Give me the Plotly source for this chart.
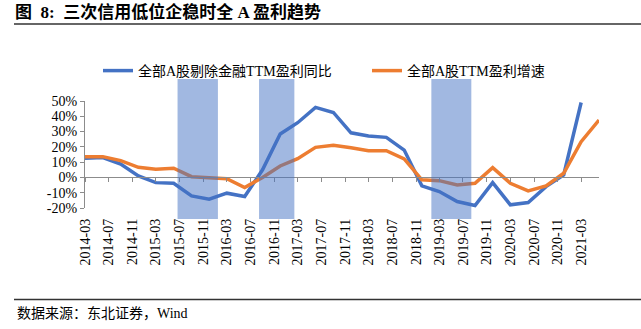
import plotly.graph_objects as go

# ---------------- data ----------------
dates = [
    "2014-03-01", "2014-06-01", "2014-09-01", "2014-12-01",
    "2015-03-01", "2015-06-01", "2015-09-01", "2015-12-01",
    "2016-03-01", "2016-06-01", "2016-09-01", "2016-12-01",
    "2017-03-01", "2017-06-01", "2017-09-01", "2017-12-01",
    "2018-03-01", "2018-06-01", "2018-09-01", "2018-12-01",
    "2019-03-01", "2019-06-01", "2019-09-01", "2019-12-01",
    "2020-03-01", "2020-06-01", "2020-09-01", "2020-12-01",
    "2021-03-01", "2021-06-01",
]
ex_fin_yoy = [  # 全部A股剔除金融TTM盈利同比 (%)
    12.5, 13.0, 8.8, 1.0,
    -3.4, -3.8, -12.1, -14.2,
    -10.3, -12.5, 5.0, 28.4,
    35.8, 45.8, 42.5, 29.2,
    27.1, 26.2, 17.9, -5.5,
    -9.2, -15.8, -18.4, -3.4,
    -17.9, -16.4, -6.0, 1.6,
    49.0,
]
all_a_growth = [  # 全部A股TTM盈利增速 (%)
    13.6, 13.6, 11.0, 6.6,
    5.3, 6.0, 0.5, -0.3,
    -0.8, -6.6, 0.0, 7.5,
    12.3, 19.7, 21.0, 19.4,
    17.5, 17.5, 12.1, -1.6,
    -2.1, -4.9, -3.8, 6.4,
    -3.8, -8.8, -5.5, 2.7,
    23.4, 37.5,
]
shade_start = ["2015-06-21", "2016-08-14", "2019-01-19"]
shade_end = ["2016-01-15", "2017-02-12", "2019-08-13"]

y_tick_vals = [-20, -10, 0, 10, 20, 30, 40, 50]
y_tick_text = ["-20%", "-10%", "0%", "10%", "20%", "30%", "40%", "50%"]
x_range = ["2014-03-01", "2021-06-01"]
y_range = [-20, 50]

title_text = "图  8:  三次信用低位企稳时全 A 盈利趋势"
source_text = "数据来源：东北证券，Wind"
name_blue = "全部A股剔除金融TTM盈利同比"
name_orange = "全部A股TTM盈利增速"

# ---------------- figure ----------------
W, H = 641, 329
ML, MR, MT, MB = 85, 42, 101, 121
plot_w = W - ML - MR
plot_h = H - MT - MB

FONT = "Liberation Serif, Noto Sans CJK SC, serif"
AXIS_GRAY = "#8C8C8C"


def px_to_paper_x(px):
    return (px - ML) / plot_w


def px_to_paper_y(py):
    return (H - MB - py) / plot_h


fig = go.Figure()
fig.add_trace(go.Scatter(
    x=dates[:len(ex_fin_yoy)], y=ex_fin_yoy, name=name_blue, mode="lines",
    line=dict(color="#4472C4", width=3.5), xaxis="x", yaxis="y",
    legend="legend",
))
fig.add_trace(go.Scatter(
    x=dates[:len(all_a_growth)], y=all_a_growth, name=name_orange, mode="lines",
    line=dict(color="#ED7D31", width=3.5), xaxis="x", yaxis="y",
    legend="legend2",
))
# invisible helper trace so the label axis (x2) is drawn
fig.add_trace(go.Scatter(
    x=dates, y=all_a_growth, mode="lines", opacity=0, showlegend=False,
    hoverinfo="skip", xaxis="x2", yaxis="y",
))

shapes = []
for s, e in zip(shade_start, shade_end):
    shapes.append(dict(
        type="rect", xref="x", yref="paper", x0=s, x1=e,
        y0=px_to_paper_y(219), y1=px_to_paper_y(79),
        fillcolor="#4472C4", opacity=0.5, line=dict(width=0), layer="above",
    ))
# title and source separator lines
for py in (24, 299.5):
    shapes.append(dict(
        type="line", xref="paper", yref="paper",
        x0=px_to_paper_x(14), x1=px_to_paper_x(W + 2),
        y0=px_to_paper_y(py), y1=px_to_paper_y(py),
        line=dict(color="#333333", width=1.3),
    ))

zero_pos = (0 - y_range[0]) / (y_range[1] - y_range[0])

legend_common = dict(
    orientation="h", xanchor="left", yanchor="middle",
    font=dict(family=FONT, size=14, color="#000000"),
    bgcolor="rgba(0,0,0,0)", itemwidth=30,
)

fig.update_layout(
    width=W, height=H,
    margin=dict(l=ML, r=MR, t=MT, b=MB, pad=0),
    paper_bgcolor="white", plot_bgcolor="white",
    font=dict(family=FONT, size=14, color="#000000"),
    showlegend=True,
    legend=dict(x=px_to_paper_x(98), y=px_to_paper_y(71), **legend_common),
    legend2=dict(x=px_to_paper_x(367), y=px_to_paper_y(71), **legend_common),
    xaxis=dict(
        type="date", range=x_range, anchor="free", position=zero_pos,
        showline=True, linecolor=AXIS_GRAY, linewidth=1,
        ticks="outside", ticklen=4, tickcolor=AXIS_GRAY, tickwidth=1,
        tick0="2014-03-01", dtick="M4", showticklabels=False,
        showgrid=False, zeroline=False, fixedrange=True,
    ),
    xaxis2=dict(
        type="date", range=x_range, overlaying="x", anchor="y", side="bottom",
        showline=False, ticks="", tick0="2014-03-01", dtick="M4",
        tickformat="%Y-%m", tickangle=-90, ticklabelstandoff=7,
        tickfont=dict(family=FONT, size=14, color="#000000"),
        showgrid=False, zeroline=False, fixedrange=True,
    ),
    yaxis=dict(
        range=y_range, tickvals=y_tick_vals, ticktext=y_tick_text,
        showline=True, linecolor=AXIS_GRAY, linewidth=1,
        ticks="outside", ticklen=4, tickcolor=AXIS_GRAY,
        tickfont=dict(family=FONT, size=14, color="#000000"),
        showgrid=False, zeroline=False, fixedrange=True,
    ),
    shapes=shapes,
    title=dict(
        text=title_text, xref="container", yref="container",
        x=15 / W, y=1 - 12 / H, xanchor="left", yanchor="middle",
        font=dict(family="Liberation Serif, Noto Sans CJK SC", size=17,
                  color="#000000", weight="bold"),
    ),
    annotations=[dict(
        text=source_text, xref="paper", yref="paper",
        x=px_to_paper_x(15), y=px_to_paper_y(313),
        xanchor="left", yanchor="middle", showarrow=False,
        font=dict(family=FONT, size=14, color="#000000"),
    )],
)

fig.write_html("out.html")
